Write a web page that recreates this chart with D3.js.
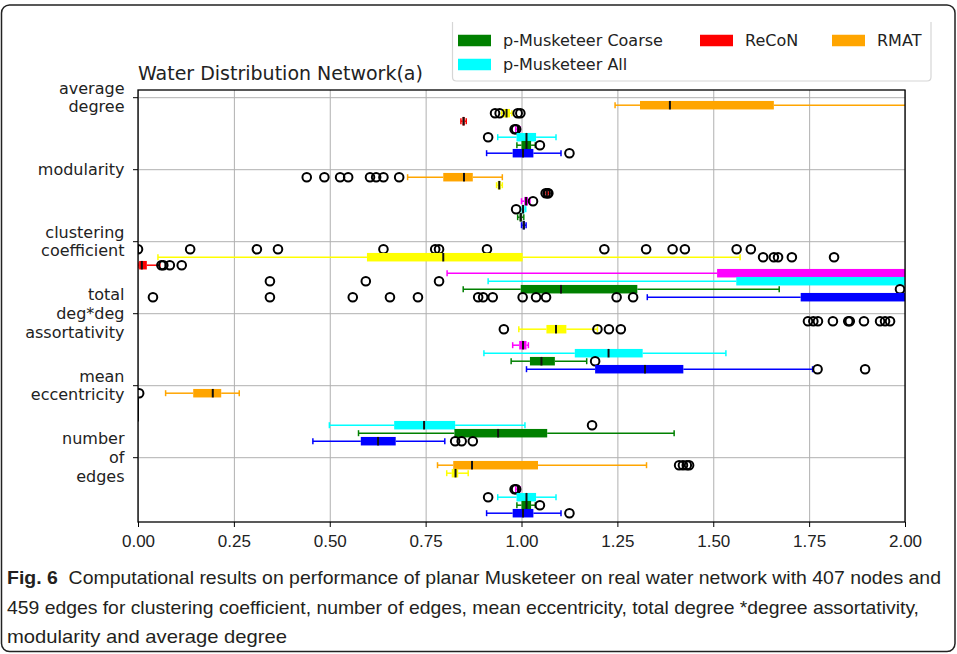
<!DOCTYPE html>
<html>
<head>
<meta charset="utf-8">
<script src="https://cdn.jsdelivr.net/npm/d3@7"></script>
<style>
  body { margin: 0; background: #fff; }
  svg { display: block; }
</style>
</head>
<body>
<div id="chart"></div>
<script>
// categories (top to bottom) and x ticks
const groups = ["average\ndegree", "modularity", "clustering\ncoefficient",
                "total\ndeg*deg\nassortativity", "mean\neccentricity", "number\nof\nedges"];
const xTicks = [0, 0.25, 0.5, 0.75, 1, 1.25, 1.5, 1.75, 2];

// box stats per group: [lowWhisker, q1, median, q3, highWhisker]
const rmatStats = [[1.244, 1.309, 1.387, 1.658, 2.4], [0.703, 0.796, 0.85, 0.873, 0.95], [0, 0, 0, 0, 0],
                   [2.1, 2.3, 2.4, 2.5, 2.7], [0.072, 0.144, 0.195, 0.217, 0.264], [0.781, 0.822, 0.871, 1.043, 1.326]];
const rmatOut = [[], [0.44, 0.486, 0.527, 0.548, 0.605, 0.621, 0.64, 0.681],
                 [0.0, 0.136, 0.31, 0.365, 0.64, 0.775, 0.785, 0.91, 1.216, 1.325, 1.394, 1.426, 1.561, 1.598],
                 [1.747, 1.761, 1.773, 1.812, 1.852, 1.856, 1.893, 1.935, 1.948, 1.961], [0.003], [1.411, 1.421, 1.431, 1.437]];

const yellowStats = [[0.948, 0.952, 0.961, 0.97, 0.975], [0.935, 0.938, 0.942, 0.946, 0.95], [0.052, 0.597, 0.796, 1.003, 1.57],
                     [0.993, 1.065, 1.09, 1.117, 1.198], [0, 0, 0, 0, 0], [0.805, 0.818, 0.828, 0.835, 0.861]];
const yellowOut = [[0.931, 0.943, 0.99, 0.997], [], [1.63, 1.658, 1.669, 1.705, 1.815],
                   [0.954, 1.198, 1.228, 1.259], [], []];

const reconStats = [[0.842, 0.846, 0.849, 0.852, 0.856], [1.06, 1.063, 1.066, 1.069, 1.072], [0, 0.003, 0.01, 0.023, 0.057],
                    [2.1, 2.3, 2.4, 2.5, 2.7], [0, 0, 0, 0, 0], [2.1, 2.3, 2.4, 2.5, 2.7]];
const reconOut = [[], [1.063, 1.068, 1.07], [0.061, 0.066, 0.083, 0.114], [], [], []];

const magentaStats = [[0.985, 0.988, 0.991, 0.994, 0.997], [1.0, 1.007, 1.012, 1.017, 1.022], [0.806, 1.51, 2.2, 2.6, 3],
                      [0.977, 0.994, 1.004, 1.013, 1.018], [0, 0, 0, 0, 0], [0.985, 0.988, 0.991, 0.994, 0.997]];
const magentaOut = [[0.982, 0.986], [1.03], [], [], [], [0.982, 0.986]];

const allStats = [[0.938, 0.987, 1.013, 1.038, 1.09], [0.998, 1.001, 1.004, 1.008, 1.011], [0.913, 1.56, 2.2, 2.6, 3],
                  [0.902, 1.139, 1.227, 1.316, 1.533], [0.499, 0.668, 0.746, 0.827, 1.009], [0.938, 0.987, 1.013, 1.038, 1.09]];
const allOut = [[0.913], [0.986], [0.344, 0.594, 0.785], [], [1.184], [0.913]];

const coarseStats = [[0.988, 1.0, 1.013, 1.025, 1.036], [0.99, 0.995, 0.998, 1.001, 1.006], [0.848, 0.998, 1.103, 1.302, 1.672],
                     [0.973, 1.022, 1.052, 1.087, 1.17], [0.575, 0.825, 0.939, 1.067, 1.398], [0.988, 1.0, 1.013, 1.025, 1.036]];
const coarseOut = [[1.048], [], [1.987], [1.192], [], [1.048]];

const blueStats = [[0.909, 0.977, 1.004, 1.031, 1.103], [1.0, 1.003, 1.006, 1.009, 1.012], [1.328, 1.728, 2.2, 2.6, 3],
                   [1.013, 1.192, 1.322, 1.422, 1.759], [0.456, 0.581, 0.626, 0.672, 0.8], [0.909, 0.977, 1.004, 1.031, 1.103]];
const blueOut = [[1.125], [], [0.039, 0.344, 0.56, 0.657, 0.73, 0.887, 0.9, 0.925, 1.003, 1.038, 1.064, 1.248, 1.291],
                 [1.772, 1.896], [0.827, 0.844, 0.873], [1.125]];

const series = [
  { color: "#ffa500", stats: rmatStats, out: rmatOut },
  { color: "#ffff00", stats: yellowStats, out: yellowOut },
  { color: "#ff0000", stats: reconStats, out: reconOut },
  { color: "#ff00ff", stats: magentaStats, out: magentaOut },
  { color: "#00ffff", stats: allStats, out: allOut },
  { color: "#008000", stats: coarseStats, out: coarseOut },
  { color: "#0000ff", stats: blueStats, out: blueOut }
];

// legend (top row is cut off in the figure)
const legendItems = [
  { name: "p-Musketeer Coarse", color: "#008000", col: 0, row: 0 },
  { name: "ReCoN", color: "#ff0000", col: 1, row: 0 },
  { name: "RMAT", color: "#ffa500", col: 2, row: 0 },
  { name: "p-Musketeer All", color: "#00ffff", col: 0, row: 1 }
];

const width = 957, height = 654;
const plot = { left: 138, right: 905, top: 90, bottom: 522 };
const dejavu = "DejaVu Sans, sans-serif";
const capFont = "Liberation Sans Narrow, Liberation Sans, sans-serif";

const svg = d3.select("#chart").append("svg")
    .attr("width", width)
    .attr("height", height);

// outer frame
svg.append("rect")
    .attr("x", 1.5).attr("y", 5)
    .attr("width", 953.5).attr("height", 646.5)
    .attr("rx", 8)
    .attr("fill", "none").attr("stroke", "#222").attr("stroke-width", 1.5);

const x = d3.scaleLinear().domain([0, 2]).range([plot.left, plot.right]);
const y = d3.scaleLinear().domain([-0.1, 5.9]).range([plot.top, plot.bottom]);

svg.append("clipPath").attr("id", "plotclip")
  .append("rect")
    .attr("x", plot.left).attr("y", plot.top)
    .attr("width", plot.right - plot.left).attr("height", plot.bottom - plot.top);

// grid
svg.append("g")
    .attr("transform", `translate(0,${plot.bottom})`)
    .call(d3.axisBottom(x).tickValues(xTicks).tickSize(-(plot.bottom - plot.top)).tickFormat(""))
    .call(g => g.select(".domain").remove())
    .selectAll("line").attr("stroke", "#b0b0b0").attr("stroke-width", 1);

svg.append("g")
    .attr("transform", `translate(${plot.left},0)`)
    .call(d3.axisLeft(y).tickValues(d3.range(groups.length)).tickSize(-(plot.right - plot.left)).tickFormat(""))
    .call(g => g.select(".domain").remove())
    .selectAll("line").attr("stroke", "#b0b0b0").attr("stroke-width", 1);

// boxes
const marks = svg.append("g").attr("clip-path", "url(#plotclip)");
const boxH = 8.5;

series.forEach((s, j) => {
  const g = marks.append("g");
  s.stats.forEach((st, i) => {
    const cy = y(i + (j + 1) / 9);
    const [lo, q1, med, q3, hi] = st;
    g.append("line").attr("x1", x(lo)).attr("x2", x(q1)).attr("y1", cy).attr("y2", cy)
        .attr("stroke", s.color).attr("stroke-width", 1.5);
    g.append("line").attr("x1", x(q3)).attr("x2", x(hi)).attr("y1", cy).attr("y2", cy)
        .attr("stroke", s.color).attr("stroke-width", 1.5);
    [lo, hi].forEach(v => {
      g.append("line").attr("x1", x(v)).attr("x2", x(v)).attr("y1", cy - 3).attr("y2", cy + 3)
          .attr("stroke", s.color).attr("stroke-width", 1.5);
    });
    g.append("rect")
        .attr("x", x(q1)).attr("y", cy - boxH / 2)
        .attr("width", Math.max(0, x(q3) - x(q1))).attr("height", boxH)
        .attr("fill", s.color);
    g.append("line").attr("x1", x(med)).attr("x2", x(med))
        .attr("y1", cy - boxH / 2).attr("y2", cy + boxH / 2)
        .attr("stroke", "#111").attr("stroke-width", 2);
    g.selectAll(null).data(s.out[i]).enter().append("circle")
        .attr("cx", d => x(d)).attr("cy", cy).attr("r", 4.3)
        .attr("fill", "none").attr("stroke", "#000").attr("stroke-width", 2);
  });
});

// axes frame
svg.append("rect")
    .attr("x", plot.left).attr("y", plot.top)
    .attr("width", plot.right - plot.left).attr("height", plot.bottom - plot.top)
    .attr("fill", "none").attr("stroke", "#000").attr("stroke-width", 1.3);

// x axis
const xAxis = svg.append("g")
    .attr("transform", `translate(0,${plot.bottom})`)
    .call(d3.axisBottom(x).tickValues(xTicks).tickFormat(d3.format(".2f")).tickSize(5).tickPadding(8));
xAxis.select(".domain").remove();
xAxis.selectAll("line").attr("stroke", "#000");
xAxis.selectAll("text").attr("font-family", capFont).attr("font-size", 17).attr("fill", "#222");

// y axis
const yAxis = svg.append("g")
    .attr("transform", `translate(${plot.left},0)`)
    .call(d3.axisLeft(y).tickValues(d3.range(groups.length)).tickSize(5).tickFormat(""));
yAxis.select(".domain").remove();
yAxis.selectAll("line").attr("stroke", "#000");

const lineH = 18.8;
groups.forEach((lab, i) => {
  const lines = lab.split("\n");
  const t = svg.append("text")
      .attr("font-family", dejavu).attr("font-size", 16).attr("fill", "#222")
      .attr("text-anchor", "end");
  lines.forEach((ln, k) => {
    t.append("tspan")
        .attr("x", 124.5)
        .attr("y", y(i) - (lines.length - 1) / 2 * lineH + k * lineH + 5.8)
        .text(ln);
  });
});

// title
svg.append("text")
    .attr("x", plot.left).attr("y", 79.5)
    .attr("font-family", dejavu).attr("font-size", 19).attr("fill", "#222")
    .text("Water Distribution Network(a)");

// legend box, its top edge is cropped
const lg = { left: 452.5, right: 931, top: 22, bottom: 81, r: 4 };
svg.append("path")
    .attr("d", `M${lg.left},${lg.top} V${lg.bottom - lg.r} Q${lg.left},${lg.bottom} ${lg.left + lg.r},${lg.bottom}
               H${lg.right - lg.r} Q${lg.right},${lg.bottom} ${lg.right},${lg.bottom - lg.r} V${lg.top}`)
    .attr("fill", "#fff").attr("stroke", "#d6d6d6").attr("stroke-width", 1.2);

const colX = [458, 700, 832];
const rowY = [40.5, 64.5];
legendItems.forEach(d => {
  svg.append("rect")
      .attr("x", colX[d.col]).attr("y", rowY[d.row] - 5.75)
      .attr("width", 33).attr("height", 11.5)
      .attr("fill", d.color);
  svg.append("text")
      .attr("x", colX[d.col] + 45).attr("y", rowY[d.row] + 5.8)
      .attr("font-family", dejavu).attr("font-size", 16).attr("fill", "#222")
      .text(d.name);
});

// caption
const caption = [
  { bold: "Fig. 6", text: "  Computational results on performance of planar Musketeer on real water network with 407 nodes and", len: 934 },
  { bold: "", text: "459 edges for clustering coefficient, number of edges, mean eccentricity, total degree *degree assortativity,", len: 912 },
  { bold: "", text: "modularity and average degree", len: 280 }
];
caption.forEach((c, k) => {
  const t = svg.append("text")
      .attr("x", 7).attr("y", 584 + k * 29.5)
      .attr("font-family", capFont).attr("font-size", 19).attr("fill", "#231f20")
      .attr("textLength", c.len).attr("lengthAdjust", "spacingAndGlyphs")
      .attr("xml:space", "preserve");
  if (c.bold) t.append("tspan").attr("font-weight", "bold").text(c.bold);
  t.append("tspan").text(c.text);
});
</script>
</body>
</html>
